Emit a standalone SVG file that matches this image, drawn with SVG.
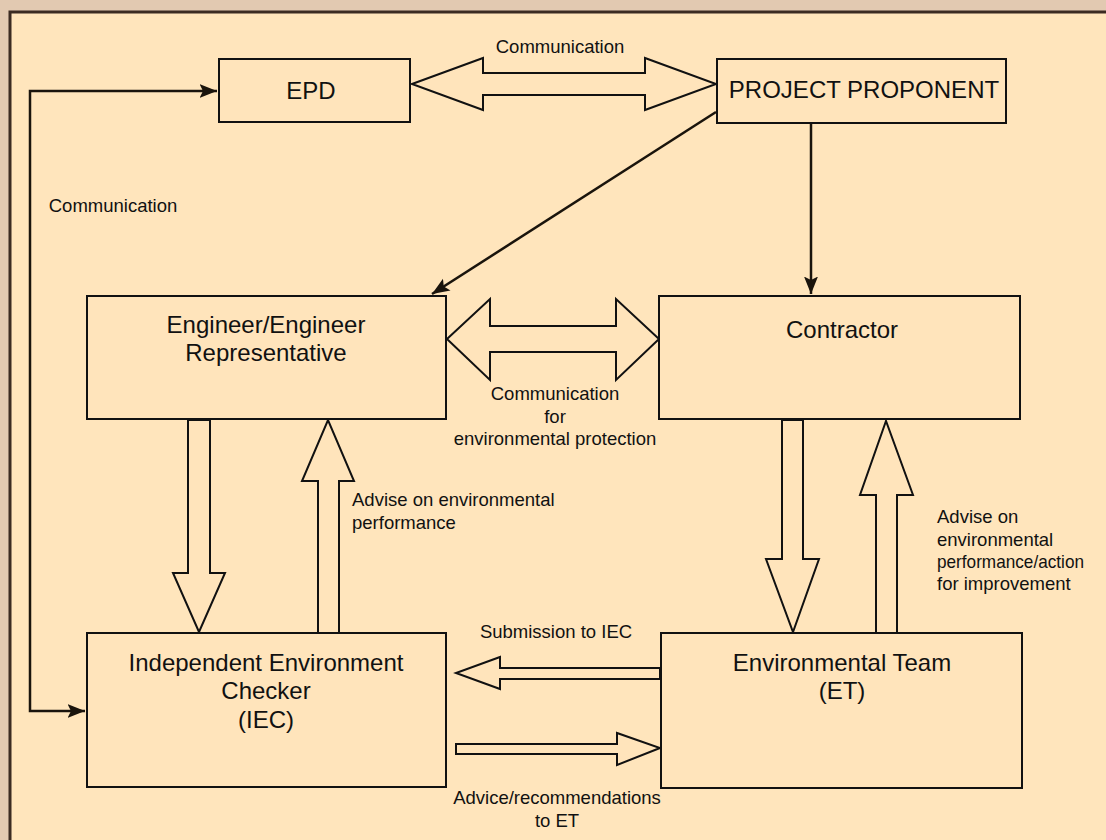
<svg xmlns="http://www.w3.org/2000/svg" width="1106" height="840" viewBox="0 0 1106 840">
<style>
.box{fill:#ffe4bb;stroke:#111;stroke-width:2}
.blk{fill:#ffe4bb;stroke:#111;stroke-width:2;stroke-linejoin:miter}
.ln{fill:none;stroke:#1a140c;stroke-width:2.5}
.nt{font-family:"Liberation Sans",Arial,sans-serif;font-size:24px;fill:#111;text-anchor:middle}
.lb{font-family:"Liberation Sans",Arial,sans-serif;font-size:18.5px;fill:#111}
.c{text-anchor:middle}
</style>
<defs>
<marker id="ah" viewBox="0 0 10 10" refX="10" refY="5" markerWidth="7" markerHeight="7" orient="auto-start-reverse" markerUnits="strokeWidth">
<path d="M0,1 L10,5 L0,9 L2,5 Z" fill="#1a140c"/>
</marker>
</defs>
<rect x="0" y="0" width="1106" height="840" fill="#e2c9b1"/>
<rect x="10" y="12" width="1100" height="840" fill="#ffe5bc" stroke="#3b2b22" stroke-width="3"/>

<g id="connectors">
<path class="ln" d="M217,91 H30 V711 H85" marker-start="url(#ah)" marker-end="url(#ah)"/>
<path class="ln" d="M716,112 L432,294" marker-end="url(#ah)"/>
<path class="ln" d="M811,123 V294" marker-end="url(#ah)"/>
<polygon class="blk" points="412,84 483,58 483,73 645,73 645,58 716,84 645,110 645,95 483,95 483,110"/>
<polygon class="blk" points="447,339 490,299 490,326 616,326 616,299 659,339 616,380 616,352 490,352 490,380"/>
<polygon class="blk" points="188,420 188,573 173,573 199,632 225,573 210,573 210,420"/>
<polygon class="blk" points="318,633 318,481 302,481 328,420 354,481 339,481 339,633"/>
<polygon class="blk" points="782,420 782,559 766,559 793,632 819,559 803,559 803,420"/>
<polygon class="blk" points="876,633 876,495 860,495 886,421 913,495 897,495 897,633"/>
<polygon class="blk" points="660,668 500,668 500,657 456,673 500,689 500,679 660,679"/>
<polygon class="blk" points="456,744 617,744 617,733 660,748 617,765 617,754 456,754"/>
<text class="lb c" x="113" y="211.5">Communication</text>
<text class="lb c" x="560" y="52.5">Communication</text>
<text class="lb c" x="555" y="399.5">Communication</text>
<text class="lb c" x="555" y="422.5">for</text>
<text class="lb c" x="555" y="444.5">environmental protection</text>
<text class="lb" x="352" y="505.5">Advise on environmental</text>
<text class="lb" x="352" y="528.5">performance</text>
<text class="lb" x="937" y="522.5">Advise on</text>
<text class="lb" x="937" y="545.5">environmental</text>
<text class="lb" x="937" y="567.5" textLength="147" lengthAdjust="spacingAndGlyphs">performance/action</text>
<text class="lb" x="937" y="589.5">for improvement</text>
<text class="lb c" x="556" y="637.5">Submission to IEC</text>
<text class="lb c" x="557" y="803.5">Advice/recommendations</text>
<text class="lb c" x="557" y="826.5">to ET</text>
</g>

<g id="epd">
<rect class="box" x="219" y="59" width="191" height="63"/>
<text class="nt" x="311" y="99">EPD</text>
</g>
<g id="pp">
<rect class="box" x="717" y="59" width="289" height="64"/>
<text class="nt" x="864" y="98">PROJECT PROPONENT</text>
</g>
<g id="engineer">
<rect class="box" x="87" y="296" width="359" height="123"/>
<text class="nt" x="266" y="333">Engineer/Engineer</text>
<text class="nt" x="266" y="361">Representative</text>
</g>
<g id="contractor">
<rect class="box" x="659" y="296" width="361" height="123"/>
<text class="nt" x="842" y="338">Contractor</text>
</g>
<g id="iec">
<rect class="box" x="87" y="633" width="359" height="154"/>
<text class="nt" x="266" y="671">Independent Environment</text>
<text class="nt" x="266" y="699">Checker</text>
<text class="nt" x="266" y="728">(IEC)</text>
</g>
<g id="et">
<rect class="box" x="661" y="633" width="361" height="155"/>
<text class="nt" x="842" y="671">Environmental Team</text>
<text class="nt" x="842" y="699">(ET)</text>
</g>
</svg>
